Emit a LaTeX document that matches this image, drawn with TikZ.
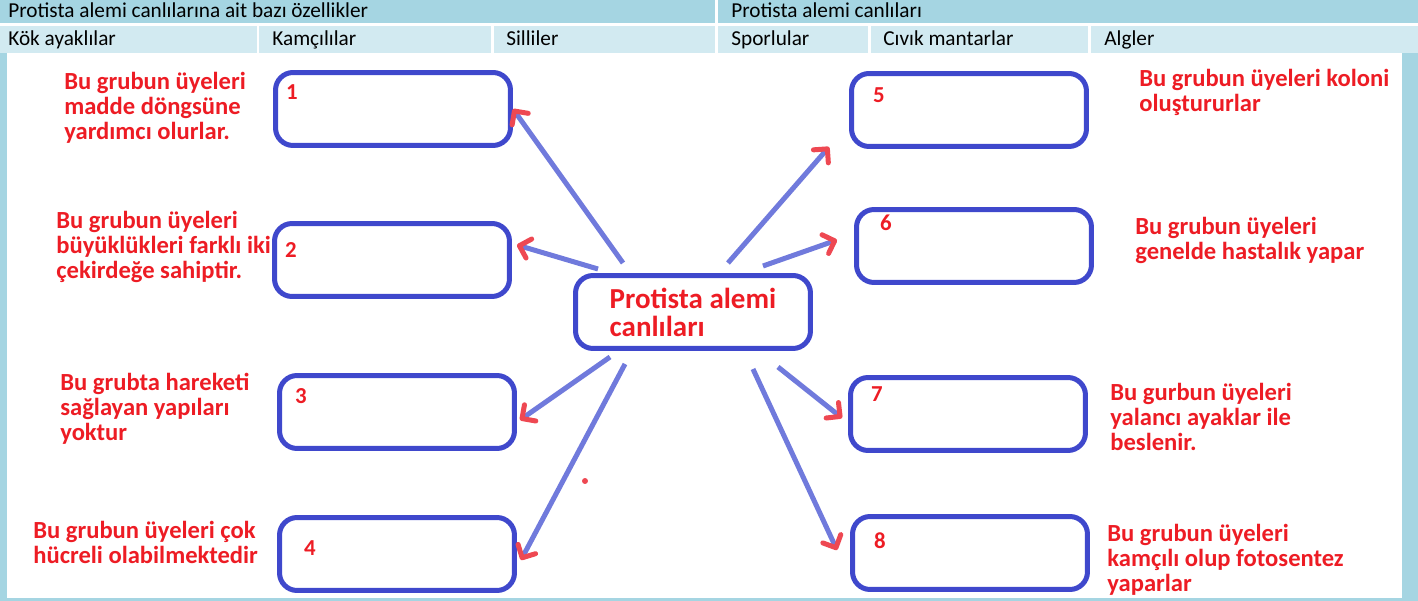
\documentclass[tikz,border=0pt]{standalone}
\usepackage{fontspec}
\setmainfont{Carlito}
\usetikzlibrary{positioning}
\usetikzlibrary{calc}
\usetikzlibrary{arrows.meta}
\definecolor{hdark}{RGB}{165,213,226}
\definecolor{hlight}{RGB}{210,234,241}
\definecolor{boxblue}{RGB}{63,72,204}
\definecolor{linkblue}{RGB}{112,122,220}
\definecolor{txtred}{RGB}{237,28,36}
\definecolor{tipred}{RGB}{238,72,82}
\tikzset{
	head/.style={anchor=base west, inner sep=0pt, font=\fontsize{12.1}{13}\selectfont},
	box/.style={draw=boxblue, line width=2.85pt, rounded corners=10pt, minimum width=4.7cm, minimum height=1.46cm},
	num/.style={text=txtred, font=\bfseries\fontsize{13}{14}\selectfont, inner sep=0pt},
	note/.style={text=txtred, font=\bfseries\fontsize{14}{14.2}\selectfont, align=left, anchor=west, inner sep=0pt},
	link/.style={draw=linkblue, line width=2.85pt, -{Straight Barb[color=tipred, angle=90:0.28cm, round]}},
	dot/.style={circle, fill=tipred, inner sep=0pt, minimum size=3.4pt}
}

\begin{document}
\begin{tikzpicture}[x=0.02cm, y=-0.02cm]
	\useasboundingbox (0,0) rectangle (1418,601);
	% header table
	\fill[hdark] (0,0) rectangle (715,23);
	\fill[hdark] (718,0) rectangle (1418,23);
	\fill[hlight] (0,26) rectangle (257,53);
	\fill[hlight] (259,26) rectangle (491,53);
	\fill[hlight] (494,26) rectangle (715,53);
	\fill[hlight] (718,26) rectangle (868,53);
	\fill[hlight] (871,26) rectangle (1088,53);
	\fill[hlight] (1091,26) rectangle (1418,53);
	% frame
	\fill[hdark] (0,53) rectangle (7,601);
	\fill[hdark] (1402,53) rectangle (1418,601);
	\fill[hdark] (0,598) rectangle (1418,601);

	\node[head] (h1) at (8,18) {Protista alemi canlılarına ait bazı özellikler};
	\node[head] (h2) at (731,18) {Protista alemi canlıları};
	\node[head] (s1) at (8,46) {Kök ayaklılar};
	\node[head] (s2) at (272,46) {Kamçılılar};
	\node[head] (s3) at (506,46) {Silliler};
	\node[head] (s4) at (731,46) {Sporlular};
	\node[head] (s5) at (883,46) {Cıvık mantarlar};
	\node[head] (s6) at (1104,46) {Algler};

	% boxes
	\node[box, align=left, text=txtred, font=\bfseries\fontsize{16.5}{15.9}\selectfont] (c) at (693,312) {Protista alemi\\canlıları};
	\node[box] (b1) at (393,109) {};
	\node[box] (b2) at (392,260) {};
	\node[box] (b3) at (397,412) {};
	\node[box] (b4) at (397,554) {};
	\node[box] (b5) at (969,110) {};
	\node[box] (b6) at (974,246) {};
	\node[box] (b7) at (968,414) {};
	\node[box] (b8) at (970,553) {};

	\node[num] (n1) at (292,92) {1};
	\node[num] (n2) at (291,250) {2};
	\node[num] (n3) at (301,396) {3};
	\node[num] (n4) at (310,548) {4};
	\node[num] (n5) at (879,95) {5};
	\node[num] (n6) at (886,223) {6};
	\node[num] (n7) at (877,394) {7};
	\node[num] (n8) at (880,541) {8};

	% notes
	\node[note] (t1) at (64,108) {Bu grubun üyeleri\\madde döngsüne\\yardımcı olurlar.};
	\node[note] (t2) at (56,247) {Bu grubun üyeleri\\büyüklükleri farklı iki\\çekirdeğe sahiptir.};
	\node[note] (t3) at (60,409) {Bu grubta hareketi\\sağlayan yapıları\\yoktur};
	\node[note] (t4) at (33,542) {Bu grubun üyeleri çok\\hücreli olabilmektedir};
	\node[note] (t5) at (1139,92) {Bu grubun üyeleri koloni\\oluştururlar};
	\node[note] (t6) at (1135,240) {Bu grubun üyeleri\\genelde hastalık yapar};
	\node[note] (t7) at (1110,417) {Bu gurbun üyeleri\\yalancı ayaklar ile\\beslenir.};
	\node[note] (t8) at (1107,560) {Bu grubun üyeleri\\kamçılı olup fotosentez\\yaparlar};

	% arrows
	\path[link] ($(c.north west)+(50,-10)$) -- (b1.east);
	\path[link] ($(c.north west)+(25,-4)$) -- ($(b2.east)+(5,-15)$);
	\path[link] ($(c.south west)+(37,6)$) -- ($(b3.east)+(3,8)$);
	\path[link] ($(c.south west)+(52,13)$) -- ($(b4.east)+(4,6)$);
	\path[link] ($(c.north east)+(-85,-10)$) -- ($(b5.south west)+(-20,-2)$);
	\path[link] ($(c.north east)+(-50,-7)$) -- ($(b6.west)+(-17,-6)$);
	\path[link] ($(c.south east)+(-35,16)$) -- ($(b7.west)+(-6,4)$);
	\path[link] ($(c.south east)+(-60,18)$) -- ($(b8.west)+(-13,-3)$);

	\node[dot] (d) at (585,481) {};
\end{tikzpicture}
\end{document}
